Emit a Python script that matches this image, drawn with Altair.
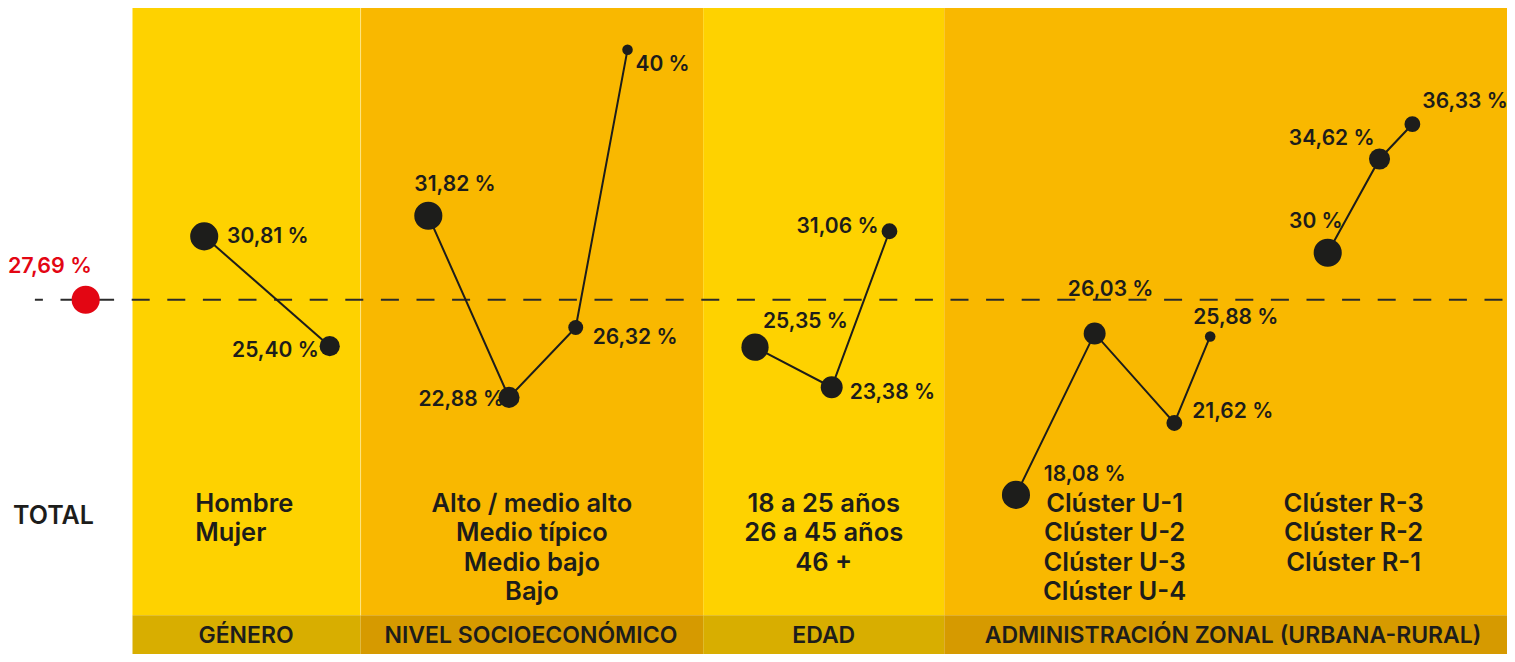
import altair as alt
import pandas as pd

# ---------------- data ----------------
group_names = ["GÉNERO", "NIVEL SOCIOECONÓMICO", "EDAD", "ADMINISTRACIÓN ZONAL (URBANA-RURAL)"]

genero_cats = ["Hombre", "Mujer"]
genero_vals = [30.81, 25.40]

nse_cats = ["Alto / medio alto", "Medio típico", "Medio bajo", "Bajo"]
nse_vals = [31.82, 22.88, 26.32, 40.0]

edad_cats = ["18 a 25 años", "26 a 45 años", "46 +"]
edad_vals = [25.35, 23.38, 31.06]

urb_cats = ["Clúster U-1", "Clúster U-2", "Clúster U-3", "Clúster U-4"]
urb_vals = [18.08, 26.03, 21.62, 25.88]

rur_cats = ["Clúster R-3", "Clúster R-2", "Clúster R-1"]
rur_vals = [30.0, 34.62, 36.33]

total_label = "TOTAL"
total_val = 27.69

# ---------------- layout (positions / sizes / styles) ----------------
W, H = 1499, 646
KY = H / 652.0            # vertical layout factor
PX_PER_PCT = 20.5         # layout units per percentage point
FONT = "Inter"
INK = "#1d1d1b"
RED = "#e30613"


def yv(y):
    """layout y (reference frame) -> pixel inside the plot"""
    return (y - 10) * KY


series_layout = {
    "gen": dict(cats=genero_cats, vals=genero_vals, x=[207, 333], d=[32, 23],
                lab=[("left", 23, 1), ("right", -11, 5)]),
    "nse": dict(cats=nse_cats, vals=nse_vals, x=[432, 513, 580, 632], d=[32, 24, 17, 12],
                lab=[("left", -14, -31), ("right", -5, 3), ("left", 17, 11), ("left", 8, 15)]),
    "edad": dict(cats=edad_cats, vals=edad_vals, x=[760, 837, 895], d=[31, 25, 18],
                 lab=[("left", 8, -25), ("left", 18, 6), ("right", -11, -4)]),
    "urb": dict(cats=urb_cats, vals=urb_vals, x=[1022, 1101, 1181, 1217], d=[32, 25, 18, 12],
                lab=[("left", 28, -20), ("center", 16, -44), ("left", 18, -11), ("left", -17, -19)]),
    "rur": dict(cats=rur_cats, vals=rur_vals, x=[1335, 1387, 1420], d=[32, 24, 18],
                lab=[("right", 15, -31), ("right", -5, -20), ("left", 10, -22)]),
}


def fmt(v):
    if float(v).is_integer():
        return f"{int(v)} %"
    return f"{v:.2f}".replace(".", ",") + " %"


rows = []
for key, s in series_layout.items():
    for i, (c, v) in enumerate(zip(s["cats"], s["vals"])):
        al, dx, dy = s["lab"][i]
        rows.append(dict(series=key, cat=c, value=v, x=s["x"][i], order=i,
                         size=3.14159 * (s["d"][i] * KY / 2) ** 2,
                         align=al, lx=s["x"][i] + dx, ly=v - dy / PX_PER_PCT,
                         label=fmt(v)))
pts = pd.DataFrame(rows)

panels = pd.DataFrame(dict(
    name=group_names,
    x0=[135, 364, 708, 950],
    x1=[364, 708, 950, 1515],
    fill=["#fed200", "#f9b800", "#fed200", "#f9b800"],
    strip=["#d8ae00", "#d69a00", "#d8ae00", "#d69a00"],
    cx=[249, 535, 829, 1240],
))

cat_labels = pd.DataFrame(dict(
    text=["\n".join(genero_cats), "\n".join(nse_cats), "\n".join(edad_cats),
          "\n".join(urb_cats), "\n".join(rur_cats)],
    x=[198, 536, 829, 1121, 1361],
    align=["left", "center", "center", "center", "center"],
))

total_df = pd.DataFrame(dict(value=[total_val], x=[88], label=[fmt(total_val)],
                             lx=[52], ly=[total_val + 33 / PX_PER_PCT],
                             tx=[15], tlab=[total_label],
                             dash0=[37], dash1=[1515]))

# y domain such that the fitted layout (28.10 % at y=296) holds
v_mid, y_mid = 28.10, 296.0
d1 = v_mid + (y_mid - 10) / PX_PER_PCT
d0 = d1 - 652.0 / PX_PER_PCT

xs = alt.Scale(domain=[10, 1515], nice=False, zero=False)
ys = alt.Scale(domain=[d0, d1], nice=False, zero=False)
X = lambda f: alt.X(f, type="quantitative", scale=xs, axis=None)
Y = lambda f: alt.Y(f, type="quantitative", scale=ys, axis=None)

bg = alt.Chart(panels).mark_rect().encode(
    x=X("x0"), x2="x1", y=alt.value(yv(10)), y2=alt.value(yv(623)),
    color=alt.Color("fill:N", scale=None))
strip = alt.Chart(panels).mark_rect().encode(
    x=X("x0"), x2="x1", y=alt.value(yv(623)), y2=alt.value(H),
    color=alt.Color("strip:N", scale=None))
divider = alt.Chart(panels.iloc[[1]]).mark_rule(color="#ffe680", strokeWidth=1).encode(
    x=X("x0"), y=alt.value(yv(10)), y2=alt.value(yv(623)))
strip_text = alt.Chart(panels).mark_text(
    font=FONT, fontSize=23, fontWeight=600, color=INK, baseline="alphabetic", align="center"
).encode(x=X("cx"), y=alt.value(yv(651)), text="name:N")

cat_layers = []
for al in ["left", "center"]:
    cat_layers.append(
        alt.Chart(cat_labels).transform_filter(alt.datum.align == al).mark_text(
            font=FONT, fontSize=25.5, fontWeight=600, color=INK, align=al,
            baseline="alphabetic", lineBreak="\n", lineHeight=29.7 * KY
        ).encode(x=X("x"), y=alt.value(yv(518.5)), text="text:N"))

total_text = alt.Chart(total_df).mark_text(
    font=FONT, fontSize=25, fontWeight=600, color=INK, align="left", baseline="alphabetic"
).encode(x=X("tx"), y=alt.value(yv(531)), text="tlab:N")

dash = alt.Chart(total_df).mark_rule(
    color="#2b2b2b", strokeWidth=2, strokeDash=[18, 17.6], strokeDashOffset=10
).encode(x=X("dash0"), x2="dash1", y=Y("value"))

lines = alt.Chart(pts).mark_line(color=INK, strokeWidth=2).encode(
    x=X("x"), y=Y("value"), detail="series:N", order="order:Q")

dots = alt.Chart(pts).mark_circle(color=INK, opacity=1).encode(
    x=X("x"), y=Y("value"), size=alt.Size("size:Q", scale=None))

lab_layers = []
for al in ["left", "right", "center"]:
    lab_layers.append(
        alt.Chart(pts).transform_filter(alt.datum.align == al).mark_text(
            font=FONT, fontSize=21, fontWeight=600, color=INK, align=al, baseline="middle"
        ).encode(x=X("lx"), y=Y("ly"), text="label:N"))

red_dot = alt.Chart(total_df).mark_circle(color=RED, opacity=1, size=790).encode(
    x=X("x"), y=Y("value"))
red_lab = alt.Chart(total_df).mark_text(
    font=FONT, fontSize=21.5, fontWeight=600, color=RED, align="center", baseline="middle"
).encode(x=X("lx"), y=Y("ly"), text="label:N")

chart = alt.layer(
    bg, strip, divider, strip_text, *cat_layers, total_text, dash, lines, dots,
    *lab_layers, red_dot, red_lab
).properties(
    width=W, height=H, padding=0, background="white",
    autosize=alt.AutoSizeParams(type="none")
).configure_view(stroke=None)

chart.save("out.html", embed_options={"renderer": "svg", "actions": False})
